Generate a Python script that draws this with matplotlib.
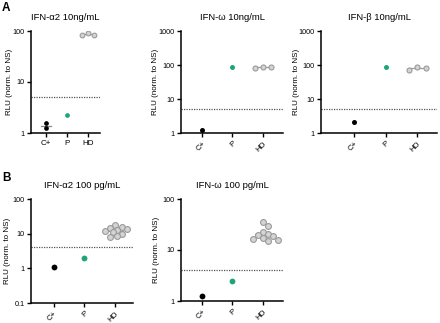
import numpy as np
import matplotlib.pyplot as plt
from matplotlib.ticker import FixedLocator, FixedFormatter

plt.rcParams["font.family"] = ["Liberation Sans", "DejaVu Sans"]

# groups on the x axis
groups = ["C+", "P", "HD"]

# panel A, 10 ng/mL stimulation
a_ifna2_cpos = [1.57, 1.25]
a_ifna2_p = [2.25]
a_ifna2_hd = [85, 90, 85]

a_ifnw_cpos = [1.22]
a_ifnw_p = [88]
a_ifnw_hd = [82, 88, 85]

a_ifnb_cpos = [2.1]
a_ifnb_p = [88]
a_ifnb_hd = [73, 86, 82]

# panel B, 100 pg/mL stimulation
b_ifna2_cpos = [1.1]
b_ifna2_p = [1.95]
b_ifna2_hd = [18, 16, 15, 14, 13, 12, 11, 10, 8.5, 8]

b_ifnw_cpos = [1.25]
b_ifnw_p = [2.45]
b_ifnw_hd = [35, 29, 23, 21, 20, 19, 17, 16.5, 16, 15]

thresholds = [5, 5, 5, 4, 4]

GREEN = "#1fa57a"
GREY_FACE = "#d4d4d4"
GREY_EDGE = "#9a9a9a"

fig = plt.figure(figsize=(4.4, 3.23), dpi=100)
W, H = 440, 323


def add_ax(x0, y0, x1, y1):
    return fig.add_axes([x0 / W, 1 - y1 / H, (x1 - x0) / W, (y1 - y0) / H])


def swarm(ax, xc, vals, ms_px, step):
    # simple beeswarm in pixel space
    placed = []
    offs = []
    for v in vals:
        py = ax.transData.transform((0, v))[1]
        k = 0
        while True:
            cand = [0] if k == 0 else [k * step, -k * step]
            ok = None
            for c in cand:
                px = ax.transData.transform((xc + c, v))[0]
                if all((px - qx) ** 2 + (py - qy) ** 2 >= ms_px ** 2 for qx, qy in placed):
                    ok = (c, px)
                    break
            if ok is not None:
                placed.append((ok[1], py))
                offs.append(ok[0])
                break
            k += 1
    return np.array(offs)


def panel(ax, title, cpos, p, hd, thr, ylim, yticks, xlim, rotate, ms,
          label_dx, hd_row=False):
    ax.set_yscale("log")
    ax.set_ylim(*ylim)
    ax.set_xlim(*xlim)
    for s in ["top", "right"]:
        ax.spines[s].set_visible(False)
    for s in ["left", "bottom"]:
        ax.spines[s].set_linewidth(1.1)
    ax.yaxis.set_major_locator(FixedLocator(yticks))
    ax.yaxis.set_major_formatter(FixedFormatter([f"{t:g}" for t in yticks]))
    ax.yaxis.set_minor_locator(FixedLocator([]))
    ax.tick_params(axis="y", labelsize=5.2, length=3, width=1, pad=1.5)
    ax.tick_params(axis="x", labelsize=5.8, length=3, width=1, pad=2)
    ax.set_xticks(range(3))
    if rotate:
        ax.set_xticklabels(groups, rotation=45, ha="right", rotation_mode="anchor")
    else:
        ax.set_xticklabels(groups)
    ax.set_ylabel("RLU (norm. to NS)", fontsize=5.8, va="center")
    w_px = ax.get_position().width * W
    ax.yaxis.set_label_coords(-label_dx / w_px, 0.5)
    ax.set_title(title, fontsize=6.8, pad=8)
    ax.axhline(thr, color="#555555", lw=0.9, ls=(0, (1, 1)), zorder=1)

    s = ms ** 2
    # C+
    xs = np.zeros(len(cpos))
    if len(cpos) > 1:
        m = np.exp(np.mean(np.log(cpos)))
        ax.plot([-0.25, 0.25], [m, m], color="#888888", lw=0.9, zorder=2)
    ax.scatter(xs, cpos, s=s, color="black", zorder=3, linewidths=0)
    ax.scatter([1] * len(p), p, s=s, color=GREEN, zorder=3, linewidths=0)
    # HD
    if hd_row:
        offs = np.array([-0.27, 0, 0.27])[: len(hd)]
    else:
        hd = sorted(hd, reverse=True)
        offs = swarm(ax, 2, hd, ms * 1.39 * 0.9, 0.08)
    m = np.exp(np.mean(np.log(hd)))
    ax.plot([2 - 0.27, 2 + 0.27], [m, m], color=GREY_EDGE, lw=0.9, zorder=2)
    ax.scatter(2 + offs, hd, s=s, facecolor=GREY_FACE, edgecolor=GREY_EDGE,
               linewidths=0.8, zorder=3)


ax1 = add_ax(31, 31, 100, 133)
panel(ax1, "IFN-\u03b12 10ng/mL", a_ifna2_cpos, a_ifna2_p, a_ifna2_hd, thresholds[0],
      (1, 100), [1, 10, 100], (-0.72, 2.57), False, 3.4, 21, hd_row=True)
ax2 = add_ax(181, 31, 283, 133)
panel(ax2, "IFN-\u03c9 10ng/mL", a_ifnw_cpos, a_ifnw_p, a_ifnw_hd, thresholds[1],
      (1, 1000), [1, 10, 100, 1000], (-0.69, 2.66), True, 3.6, 26, hd_row=True)
ax3 = add_ax(321, 31, 437, 133)
panel(ax3, "IFN-\u03b2 10ng/mL", a_ifnb_cpos, a_ifnb_p, a_ifnb_hd, thresholds[2],
      (1, 1000), [1, 10, 100, 1000], (-1.05, 2.63), True, 3.6, 25, hd_row=True)
ax4 = add_ax(31, 199, 133, 303)
panel(ax4, "IFN-\u03b12 100 pg/mL", b_ifna2_cpos, b_ifna2_p, b_ifna2_hd, thresholds[3],
      (0.1, 100), [0.1, 1, 10, 100], (-0.75, 2.59), True, 4.2, 24)
ax5 = add_ax(181, 199, 283, 301)
panel(ax5, "IFN-\u03c9 100 pg/mL", b_ifnw_cpos, b_ifnw_p, b_ifnw_hd, thresholds[4],
      (1, 100), [1, 10, 100], (-0.69, 2.66), True, 4.2, 25)

fig.text(2 / W, 1 - 2 / H, "A", fontsize=8.5, fontweight="bold", va="top", ha="left")
fig.text(2 / W, 1 - 172 / H, "B", fontsize=8.5, fontweight="bold", va="top", ha="left")

fig.savefig("out.png", dpi=100)
